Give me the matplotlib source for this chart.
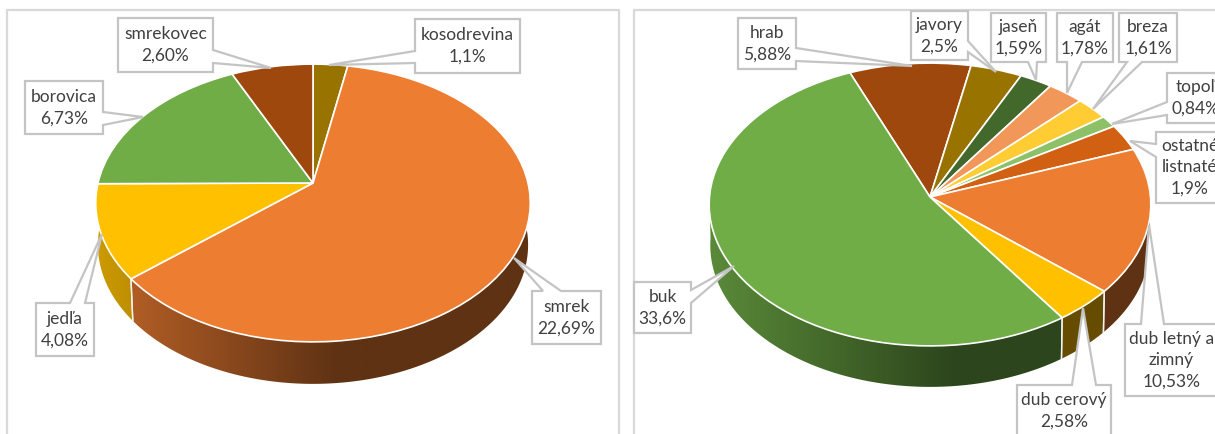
import matplotlib
matplotlib.use('Agg')
import matplotlib.pyplot as plt
from matplotlib.colors import to_rgb
from matplotlib.patches import Polygon
from matplotlib.transforms import Transform
import numpy as np

plt.rcParams['font.family'] = ['Lato', 'DejaVu Sans']

# data, clockwise from the first slice
names_left = ['kosodrevina', 'smrek', 'jedľa', 'borovica', 'smrekovec']
values_left = [1.1, 22.69, 4.08, 6.73, 2.60]
pct_left = ['1,1%', '22,69%', '4,08%', '6,73%', '2,60%']
colors_left = ['#997300', '#ED7D31', '#FFC000', '#70AD47', '#9E480E']

names_right = ['hrab', 'javory', 'jaseň', 'agát', 'breza', 'topoľ',
               'ostatné\nlistnaté', 'dub letný a\nzimný', 'dub cerový', 'buk']
values_right = [5.88, 2.5, 1.59, 1.78, 1.61, 0.84, 1.9, 10.53, 2.58, 33.6]
pct_right = ['5,88%', '2,5%', '1,59%', '1,78%', '1,61%', '0,84%',
             '1,9%', '10,53%', '2,58%', '33,6%']
colors_right = ['#9E480E', '#997300', '#43682B', '#F1975A', '#FFCD33',
                '#8CC168', '#D26012', '#ED7D31', '#FFC000', '#70AD47']

# callouts in pixels: box (x0, y0, x1, y1), side of the pointer, pointer base, tip
boxes_left = [
    ((415, 19, 520, 73), 'left', (51, 63), (329, 65)),
    ((532, 291, 601, 344), 'top', (543, 561), (514, 258)),
    ((36, 303, 94, 356), 'top', (70, 85), (102, 234)),
    ((25, 81, 103, 134), 'right', (112, 125), (143, 117)),
    ((118, 18, 213, 72), 'right', (50, 63), (271, 68)),
]
boxes_right = [
    ((738, 18, 796, 69), 'right', (48, 61), (912, 66)),
    ((911, 11, 968, 60), 'right', (41, 52), (996, 72)),
    ((991, 13, 1046, 62), 'bottom', (1028, 1037), (1036, 80)),
    ((1057, 13, 1113, 62), 'bottom', (1067, 1082), (1067, 93)),
    ((1119, 13, 1177, 62), 'bottom', (1127, 1142), (1093, 109)),
    ((1167, 73, 1225, 123), 'left', (102, 115), (1112, 124)),
    ((1156, 132, 1224, 203), 'left', (144, 157), (1130, 141)),
    ((1125, 324, 1218, 396), 'top', (1141, 1164), (1149, 225)),
    ((1017, 385, 1111, 437), 'top', (1072, 1096), (1083, 308)),
    ((634, 282, 691, 333), 'right', (290, 303), (734, 266)),
]


class PiePerspective(Transform):
    # tilts the unit circle of ax.pie, the apex ends up above the ellipse centre
    input_dims = 2
    output_dims = 2

    def __init__(self, cx, cy, rx, ry, k):
        super().__init__()
        self.cx, self.cy, self.rx, self.ry, self.k = cx, cy, rx, ry, k

    def transform_non_affine(self, values):
        u, v = np.asarray(values).T
        w = 1 + self.k * v
        return np.column_stack([self.cx + self.rx * u / w, self.cy - self.ry * v / w])


def draw_pie(ax, values, colors, startangle, cx, cy, rx, ry, k, depth, shrink):
    wedges, _ = ax.pie(values, colors=colors, startangle=startangle, counterclock=False,
                       wedgeprops={'edgecolor': 'white', 'linewidth': 1.2, 'zorder': 3})
    top = PiePerspective(cx, cy, rx, ry, k)
    base = PiePerspective(cx, cy + depth, rx * shrink, ry, k)
    for w, col in zip(wedges, colors):
        w.set_transform(top + ax.transData)

        # side wall, only the front part of the rim
        theta = np.radians(np.linspace(w.theta1, w.theta2, 200))
        full = np.column_stack([np.cos(theta), np.sin(theta)])
        arc = full[full[:, 1] < 0]
        if len(arc) == 0:
            continue
        upper = top.transform(arc)
        lower = base.transform(arc)
        pts = np.vstack([upper, lower[::-1]])
        poly = Polygon(pts, fc='none', ec='none', transform=ax.transData)
        ax.add_patch(poly)

        # dark towards the middle, stays dark to the right
        xs = np.arange(pts[:, 0].min() - 1, pts[:, 0].max() + 2)
        shade = np.interp(xs, [cx - rx, cx + 25], [0.8, 0.4])
        img = shade[None, :, None] * np.array(to_rgb(col))[None, None, :]
        im = ax.imshow(img, extent=[xs[0], xs[-1], pts[:, 1].max() + 1, pts[:, 1].min() - 1],
                       aspect='auto', zorder=1)
        im.set_clip_path(poly)

        # white seams between the wall pieces, not where the rim just turns to the back
        if full[0, 1] < 0:
            ax.plot([upper[0, 0], lower[0, 0]], [upper[0, 1], lower[0, 1]], color='#F2F2F2', lw=1, zorder=2)
        if full[-1, 1] < 0:
            ax.plot([upper[-1, 0], lower[-1, 0]], [upper[-1, 1], lower[-1, 1]], color='#F2F2F2', lw=1, zorder=2)


def draw_callout(ax, box, side, foot, tip, label):
    x0, y0, x1, y1 = box
    a, b = foot
    if side == 'top':
        pts = [(x0, y0), (a, y0), tip, (b, y0), (x1, y0), (x1, y1), (x0, y1)]
    elif side == 'right':
        pts = [(x0, y0), (x1, y0), (x1, a), tip, (x1, b), (x1, y1), (x0, y1)]
    elif side == 'bottom':
        pts = [(x0, y0), (x1, y0), (x1, y1), (b, y1), tip, (a, y1), (x0, y1)]
    else:
        pts = [(x0, y0), (x1, y0), (x1, y1), (x0, y1), (x0, b), tip, (x0, a)]
    ax.add_patch(Polygon(pts, fc='white', ec='#C4C4C4', lw=1.6, zorder=5, joinstyle='miter'))
    ax.text((x0 + x1) / 2, (y0 + y1) / 2, label, ha='center', va='center', fontsize=12.5,
            color='#404040', linespacing=1.42, zorder=6)


fig = plt.figure(figsize=(12.15, 4.34), dpi=100)
ax = fig.add_axes([0, 0, 1, 1])

draw_pie(ax, values_left, colors_left, 90, 313, 183, 215, 136, 0.144, 42, 0.99)
draw_pie(ax, values_right, colors_right, 112.4, 930, 197, 220.5, 141, 0.053, 41, 0.995)

# panel frames, cut at the bottom of the screenshot
ax.plot([7, 7, 619, 619], [440, 10, 10, 440], color='#D9D9D9', lw=1.6, zorder=0)
ax.plot([634, 634, 1220], [440, 10, 10], color='#D9D9D9', lw=1.6, zorder=0)

for name, pct, (box, side, foot, tip) in zip(names_left, pct_left, boxes_left):
    draw_callout(ax, box, side, foot, tip, name + '\n' + pct)
for name, pct, (box, side, foot, tip) in zip(names_right, pct_right, boxes_right):
    draw_callout(ax, box, side, foot, tip, name + '\n' + pct)

ax.set_aspect('auto')
ax.set_xlim(0, 1215)
ax.set_ylim(434, 0)
ax.axis('off')

fig.savefig('out.png', dpi=100)
